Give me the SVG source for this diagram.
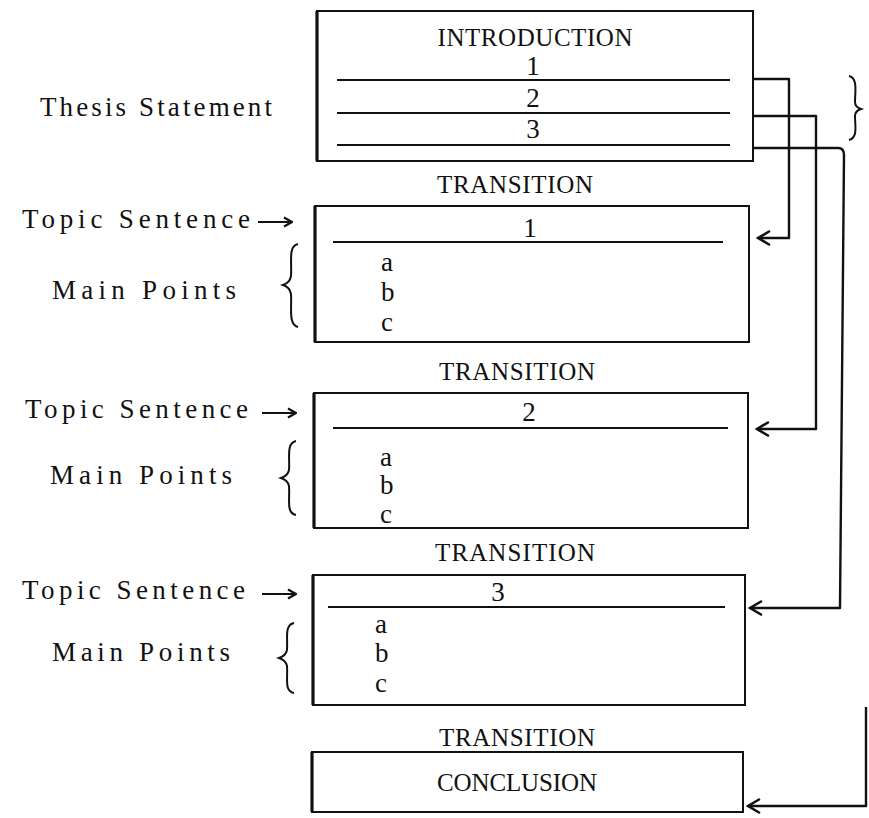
<svg xmlns="http://www.w3.org/2000/svg" width="869" height="818" viewBox="0 0 869 818">
<style>
text{font-family:"Liberation Serif","DejaVu Serif",serif;font-size:25px;fill:#111}
.c{text-anchor:middle}
.lb{font-size:27px}
.it{font-size:27px}
.box{fill:none;stroke:#111;stroke-width:2}
.edge{stroke:#111;stroke-width:3.2;fill:none}
.rule{stroke:#111;stroke-width:2;fill:none}
.conn{fill:none;stroke:#111;stroke-width:2.4;stroke-linejoin:round}
.brace{fill:none;stroke:#111;stroke-width:2}
</style>
<defs>
<marker id="ah" viewBox="0 0 16 16" refX="14" refY="8" markerWidth="16" markerHeight="16" markerUnits="userSpaceOnUse" orient="auto">
<path d="M3,1.5 L14,8 L3,14.5" fill="none" stroke="#111" stroke-width="2.6" stroke-linecap="round"/>
</marker>
<marker id="ra" viewBox="0 0 12 12" refX="11" refY="6" markerWidth="12" markerHeight="12" markerUnits="userSpaceOnUse" orient="auto">
<path d="M3,1.5 L11,6 L3,10.5" fill="none" stroke="#111" stroke-width="2.2"/>
</marker>
</defs>

<g id="labels">
<text class="lb" x="40" y="116" textLength="232" lengthAdjust="spacing">Thesis Statement</text>
<text class="lb" x="22" y="228" textLength="228" lengthAdjust="spacing">Topic Sentence</text>
<line x1="258" y1="222" x2="292" y2="222" class="rule" marker-end="url(#ra)"/>
<text class="lb" x="52" y="299" textLength="184" lengthAdjust="spacing">Main Points</text>
<path class="brace" d="M298,244 C288,246 292,262 291,276 C290,282 286,284 283,285 C286,286 290,288 291,294 C292,308 288,324 298,327"/>
<text class="lb" x="25" y="418" textLength="223" lengthAdjust="spacing">Topic Sentence</text>
<line x1="262" y1="413" x2="296" y2="413" class="rule" marker-end="url(#ra)"/>
<text class="lb" x="50" y="484" textLength="182" lengthAdjust="spacing">Main Points</text>
<path class="brace" d="M296,441 C286,443 290,458 289,470 C288,475 284,477 281,478 C284,479 288,481 289,486 C290,500 286,513 296,515"/>
<text class="lb" x="22" y="599" textLength="223" lengthAdjust="spacing">Topic Sentence</text>
<line x1="262" y1="594" x2="296" y2="594" class="rule" marker-end="url(#ra)"/>
<text class="lb" x="52" y="661" textLength="178" lengthAdjust="spacing">Main Points</text>
<path class="brace" d="M294,623 C284,625 288,639 287,650 C286,655 282,657 279,658 C282,659 286,661 287,666 C288,679 284,691 294,693"/>
<path class="brace" d="M849,76 C858,78 855,92 855,102 C855,106 858,108 861,109 C858,110 855,112 855,116 C855,126 858,138 849,140"/>
</g>

<g id="introduction">
<rect class="box" x="317" y="11" width="436" height="150"/>
<line class="edge" x1="317" y1="11" x2="317" y2="161"/>
<text class="c" x="535" y="46" textLength="195" lengthAdjust="spacing">INTRODUCTION</text>
<text class="c it" x="533" y="75">1</text>
<line class="rule" x1="337" y1="80" x2="730" y2="80"/>
<text class="c it" x="533" y="107">2</text>
<line class="rule" x1="337" y1="113" x2="730" y2="113"/>
<text class="c it" x="533" y="138">3</text>
<line class="rule" x1="337" y1="145" x2="730" y2="145"/>
</g>

<g id="transition1"><text class="c" x="515" y="193" textLength="156" lengthAdjust="spacing">TRANSITION</text></g>

<g id="body1">
<rect class="box" x="315" y="206" width="434" height="136"/>
<line class="edge" x1="315" y1="206" x2="315" y2="342"/>
<text class="c it" x="530" y="237">1</text>
<line class="rule" x1="333" y1="242" x2="723" y2="242"/>
<text class="it" x="381" y="271">a</text>
<text class="it" x="381" y="301">b</text>
<text class="it" x="381" y="331">c</text>
</g>

<g id="transition2"><text class="c" x="517" y="380" textLength="156" lengthAdjust="spacing">TRANSITION</text></g>

<g id="body2">
<rect class="box" x="314" y="393" width="434" height="135"/>
<line class="edge" x1="314" y1="393" x2="314" y2="528"/>
<text class="c it" x="529" y="421">2</text>
<line class="rule" x1="333" y1="428" x2="728" y2="428"/>
<text class="it" x="380" y="466">a</text>
<text class="it" x="380" y="494">b</text>
<text class="it" x="380" y="523">c</text>
</g>

<g id="transition3"><text class="c" x="515" y="561" textLength="160" lengthAdjust="spacing">TRANSITION</text></g>

<g id="body3">
<rect class="box" x="313" y="575" width="432" height="130"/>
<line class="edge" x1="313" y1="575" x2="313" y2="705"/>
<text class="c it" x="498" y="601">3</text>
<line class="rule" x1="328" y1="607" x2="725" y2="607"/>
<text class="it" x="375" y="633">a</text>
<text class="it" x="375" y="662">b</text>
<text class="it" x="375" y="692">c</text>
</g>

<g id="transition4"><text class="c" x="517" y="746" textLength="156" lengthAdjust="spacing">TRANSITION</text></g>

<g id="conclusion">
<rect class="box" x="312" y="752" width="431" height="60"/>
<line class="edge" x1="312" y1="752" x2="312" y2="812"/>
<text class="c" x="517" y="791" textLength="160" lengthAdjust="spacing">CONCLUSION</text>
</g>

<g id="connectors">
<path class="conn" d="M753,79 H789 V238 H758" marker-end="url(#ah)"/>
<path class="conn" d="M753,116 H816 V429 H757" marker-end="url(#ah)"/>
<path class="conn" d="M753,148 H838 Q844,148 844,155 L840,608 H750" marker-end="url(#ah)"/>
<path class="conn" d="M866,707 V806 H748" marker-end="url(#ah)"/>
</g>
</svg>
